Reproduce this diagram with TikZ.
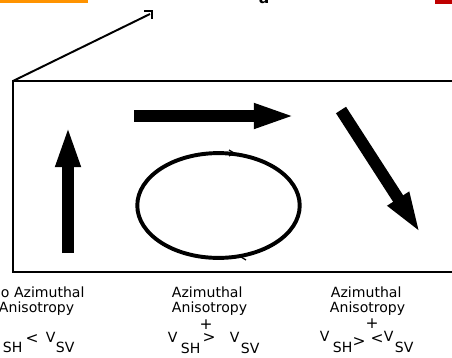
\documentclass[tikz,border=0pt]{standalone}
\usepackage{fontspec}
\setmainfont{DejaVu Sans}
\usetikzlibrary{arrows.meta}

\tikzset{
  bigarrow/.style={line width=8pt, -{Triangle[length=30pt,width=16pt]}},
  txt/.style={inner sep=0pt, anchor=base west},
  sym/.style={inner sep=0pt, anchor=base, text height=0.6em, text depth=0pt, font=\fontsize{11}{12}\selectfont},
}

\begin{document}
\begin{tikzpicture}[x=0.025cm, y=-0.025cm, line width=1.4pt, font=\fontsize{10}{12}\selectfont]
    \useasboundingbox (0,0) rectangle (452,357);
    % cut-off header strip
    \fill[orange!85!yellow] (0,0) rectangle (88,3);
    \fill[red!75!black] (435,0) rectangle (452,4);
    \node[txt, font=\fontsize{11}{12}\selectfont\bfseries] (hdr) at (258,3) {a};
    % frame and pointer line
    \coordinate (corner) at (13,81);
    \coordinate (pend) at (150,14);
    \draw (456,81) -- (corner) -- (13,272) -- (456,272);
    \draw (corner) -- (pend);
    \draw[line width=1pt] (144,11) -- (152,11) -- (152,19);
    % thick arrows
    \draw[bigarrow] (68,253) -- (68,125);                  % vertical
    \draw[bigarrow, line width=8.5pt] (134,116) -- (296,116); % horizontal
    \draw[bigarrow, line width=8.5pt] (341,110) -- (421,234); % oblique
    % ellipse with direction marks
    \draw[line width=2.8pt] (218.5,205.5) ellipse [x radius=2.03cm, y radius=1.31cm];
    \draw[line width=0.9pt] (229,150) -- (234,153) -- (229,156);
    \draw[line width=0.9pt] (246,254) -- (241,257) -- (246,260);
    % left caption
    \node[txt] (azL)  at (0,297)  {o Azimuthal};
    \node[txt] (anL)  at (-2,312) {Anisotropy};
    \node[txt] (shL)  at (2,352)  {SH};
    \node[sym] (ltL)  at (32,343) {<};
    \node[txt] (vL)   at (45,342) {V};
    \node[txt] (svL)  at (55,352) {SV};
    % middle caption
    \node[txt] (azM)  at (171,297) {Azimuthal};
    \node[txt] (anM)  at (171,312) {Anisotropy};
    \node[sym] (plM)  at (206,329) {+};
    \node[txt] (vM1)  at (167,342) {V};
    \node[txt] (shM)  at (180,353) {SH};
    \node[sym] (gtM)  at (209,342) {>};
    \node[txt] (vM2)  at (229,342) {V};
    \node[txt] (svM)  at (240,353) {SV};
    % right caption
    \node[txt] (azR)  at (330,297) {Azimuthal};
    \node[txt] (anR)  at (329,312) {Anisotropy};
    \node[sym] (plR)  at (372,328) {+};
    \node[txt] (vR1)  at (319,341) {V};
    \node[txt] (shR)  at (332,352) {SH};
    \node[sym] (gtR)  at (359,346) {>};
    \node[sym] (ltR)  at (377,343) {<};
    \node[txt] (vR2)  at (383,341) {V};
    \node[txt] (svR)  at (394,352) {SV};
\end{tikzpicture}
\end{document}
